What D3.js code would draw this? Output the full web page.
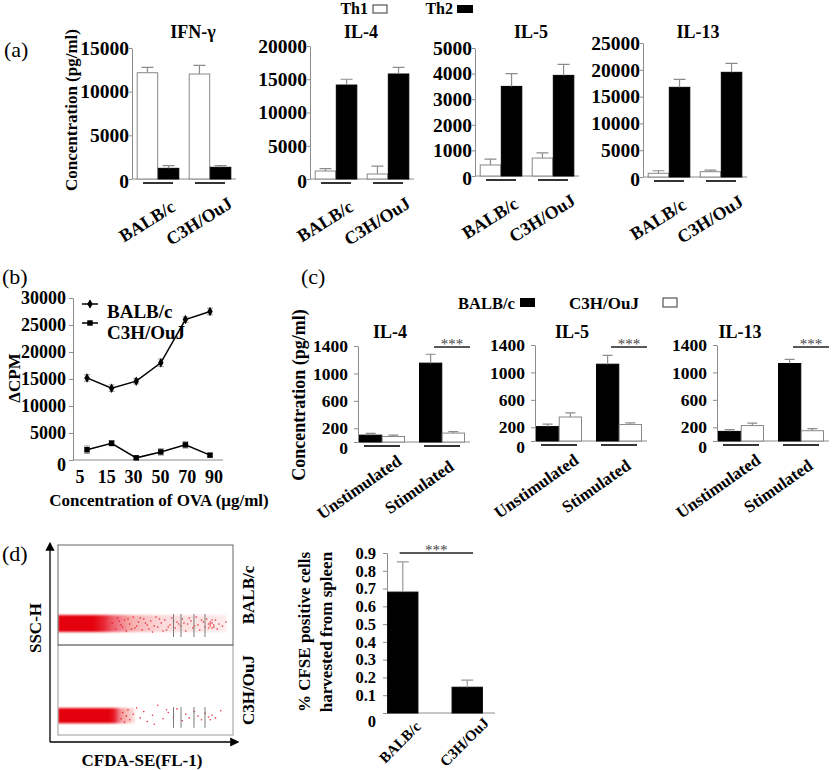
<!DOCTYPE html>
<html>
<head>
<meta charset="utf-8">
<script src="https://cdn.jsdelivr.net/npm/d3@7"></script>
<style>body { margin: 0; background: #fff; }</style>
</head>
<body>
<div id="chart"></div>
<script>
// ---- data: panel (a) ----
const strains = ['BALB/c', 'C3H/OuJ'];
const aPanels = ['IFN-γ', 'IL-4', 'IL-5', 'IL-13'];
const aTicks = [
  [0, 5000, 10000, 15000],
  [0, 5000, 10000, 15000, 20000],
  [0, 1000, 2000, 3000, 4000, 5000],
  [0, 5000, 10000, 15000, 20000, 25000],
];
const th1Values = [[12170, 12020], [1200, 750], [430, 700], [690, 990]];
const th1Err = [[620, 1000], [350, 1200], [230, 200], [480, 310]];
const th2Values = [[1220, 1340], [14130, 15790], [3500, 3930], [16730, 19530]];
const th2Err = [[310, 190], [870, 1000], [500, 430], [1500, 1670]];

// ---- data: panel (b) ----
const ovaDoses = ['5', '15', '30', '50', '70', '90'];
const cpmTicks = [0, 5000, 10000, 15000, 20000, 25000, 30000];
const balbCpm = [15200, 13300, 14600, 18000, 26000, 27500];
const balbCpmErr = [600, 600, 500, 700, 500, 600];
const c3hCpm = [1900, 3100, 400, 1500, 2800, 900];
const c3hCpmErr = [700, 500, 300, 600, 600, 300];

// ---- data: panel (c) ----
const cPanels = ['IL-4', 'IL-5', 'IL-13'];
const conditions = ['Unstimulated', 'Stimulated'];
const cTicks = [0, 200, 600, 1000, 1400];
const balbValues = [[100, 1150], [210, 1120], [140, 1130]];
const balbErr = [[25, 130], [35, 130], [25, 60]];
const c3hValues = [[80, 130], [350, 240], [225, 150]];
const c3hErr = [[20, 20], [60, 25], [35, 30]];

// ---- data: panel (d) ----
const cfseTicks = [0, 0.1, 0.2, 0.3, 0.4, 0.5, 0.6, 0.7, 0.8, 0.9];
const cfseValues = [0.68, 0.145];
const cfseErr = [0.17, 0.04];
// flow plots, FL-1 and SSC in 0-100 units: [from, to, relative density]
const flowTopDensity = [[0, 20, 1], [20, 26, 0.85], [26, 32, 0.6], [32, 42, 0.32], [42, 60, 0.14], [60, 96, 0.08]];
const flowBottomDensity = [[0, 29, 1], [29, 32, 0.9], [32, 36, 0.4], [36, 44, 0.1]];
const flowBand = [13, 30];
const flowTopDots = [
  [31, 22], [33, 16], [34, 27], [36, 20], [38, 25], [39, 14], [41, 21], [43, 28], [44, 17],
  [46, 23], [48, 15], [49, 26], [51, 20], [53, 24], [54, 13], [56, 28], [57, 18], [59, 22],
  [61, 25], [62, 15], [64, 20], [65, 27], [67, 17], [68, 23], [70, 19], [71, 26], [73, 14],
  [74, 21], [76, 24], [77, 17], [79, 28], [80, 20], [81, 15], [83, 23], [84, 18], [85, 26],
  [86, 21], [87, 19], [87, 23], [88, 17], [88, 22], [89, 20], [90, 25], [91, 16], [92, 21],
  [94, 19], [96, 23], [45, 19], [52, 16], [58, 26], [63, 18], [69, 21], [75, 27], [82, 25],
  [35, 24], [37, 18], [40, 26], [42, 16], [47, 27], [50, 22], [55, 19], [60, 14], [66, 24],
  [72, 22], [78, 19], [86, 17], [88, 25], [89, 18], [87, 21],
];
const flowBottomDots = [
  [36, 18], [37, 25], [38, 14], [39, 21], [40, 28], [41, 17], [43, 23], [45, 30], [47, 19],
  [49, 26], [51, 15], [54, 22], [57, 33], [60, 18], [63, 25], [66, 20], [68, 29], [71, 16],
  [73, 23], [75, 19], [78, 26], [80, 21], [82, 17], [84, 24], [86, 20], [87, 17], [88, 22],
  [90, 19], [93, 27], [55, 12], [62, 28],
];
const flowGates = [66, 70.3, 77.7, 84];

const SERIF = '"Liberation Serif", "Times New Roman", serif';
const AXIS = '#8c8c8c';
const RED = '#e4000f';

const svg = d3.select('#chart').append('svg')
  .attr('width', 840)
  .attr('height', 770);

svg.append('rect').attr('width', 840).attr('height', 770).attr('fill', '#fff');

const defs = svg.append('defs');
defs.append('filter').attr('id', 'soft')
  .append('feGaussianBlur').attr('stdDeviation', 0.9);
defs.append('marker')
  .attr('id', 'arrow')
  .attr('viewBox', '0 0 10 10')
  .attr('refX', 2).attr('refY', 5)
  .attr('markerWidth', 7).attr('markerHeight', 7)
  .attr('orient', 'auto')
  .append('path').attr('d', 'M0,0L10,5L0,10z').attr('fill', '#000');

function label(g, x, y, s, o = {}) {
  const t = g.append('text')
    .attr('x', x)
    .attr('y', y)
    .attr('font-family', SERIF)
    .attr('font-size', o.size || 17)
    .attr('font-weight', o.weight || 'bold')
    .attr('fill', o.fill || '#000')
    .attr('text-anchor', o.anchor || 'middle')
    .text(s);
  if (o.dy) t.attr('dy', o.dy);
  if (o.rotate) t.attr('transform', `rotate(${o.rotate},${x},${y})`);
  return t;
}

function leftAxis(g, y, x, ticks, fmt, o) {
  const a = g.append('g')
    .attr('transform', `translate(${x},0)`)
    .call(d3.axisLeft(y).tickValues(ticks).tickSizeInner(o.size || 4).tickSizeOuter(0)
      .tickPadding(o.pad).tickFormat(fmt));
  a.selectAll('path, line').attr('stroke', AXIS);
  a.selectAll('text')
    .attr('font-family', SERIF)
    .attr('font-size', o.font || 18)
    .attr('font-weight', 'bold')
    .attr('fill', '#000');
  // the zero label sits a little lower in the original
  a.selectAll('.tick').filter(d => d === 0).select('text')
    .attr('transform', `translate(0,${o.zero || 0})`);
  return a;
}

// grouped bars with error bars, used by (a), (c) and (d)
function groupedBars(g, c) {
  const y = d3.scaleLinear().domain([0, c.ticks[c.ticks.length - 1]]).range([c.y0, c.y1]);
  const gx = d3.scaleBand().domain(c.groups).range([c.x, c.x + c.len])
    .paddingInner(c.inner).paddingOuter(c.outer);
  const sx = d3.scaleBand().domain(c.series.map((s, i) => i)).range([0, gx.bandwidth()])
    .paddingInner(c.gap);

  leftAxis(g, y, c.x, c.ticks, c.fmt, c.axis);

  g.append('line')
    .attr('x1', c.x).attr('x2', c.x + c.axisLen)
    .attr('y1', c.y0).attr('y2', c.y0)
    .attr('stroke', AXIS);

  c.series.forEach((s, si) => {
    const bars = g.append('g');
    bars.selectAll('rect').data(c.groups).join('rect')
      .attr('x', d => gx(d) + sx(si))
      .attr('y', (d, i) => y(s.values[i]))
      .attr('width', sx.bandwidth())
      .attr('height', (d, i) => c.y0 - y(s.values[i]))
      .attr('fill', s.fill)
      .attr('stroke', s.stroke)
      .attr('stroke-width', 1);

    bars.selectAll('path').data(c.groups).join('path')
      .attr('d', (d, i) => {
        const cx = gx(d) + sx(si) + sx.bandwidth() / 2;
        const top = y(s.values[i] + s.errs[i]);
        return `M${cx},${y(s.values[i])}V${top}M${cx - c.cap / 2},${top}H${cx + c.cap / 2}`;
      })
      .attr('fill', 'none')
      .attr('stroke', c.errColor || '#8c8c8c')
      .attr('stroke-width', 1.2);
  });

  if (c.underline) {
    g.append('g').selectAll('line').data(c.groups).join('line')
      .attr('x1', d => gx(d) + gx.bandwidth() / 2 - c.underline)
      .attr('x2', d => gx(d) + gx.bandwidth() / 2 + c.underline)
      .attr('y1', c.y0 + 4).attr('y2', c.y0 + 4)
      .attr('stroke', '#333')
      .attr('stroke-width', 2);
  }

  c.groups.forEach(d => {
    label(g, gx(d) + gx.bandwidth() / 2 + c.ldx, c.y0 + c.ldy, d,
      { rotate: c.rot, size: c.lsize, dy: '0.35em' });
  });

  return { y, gx };
}

function sigBar(g, x1, x2, y) {
  g.append('line')
    .attr('x1', x1).attr('x2', x2)
    .attr('y1', y).attr('y2', y)
    .attr('stroke', '#222').attr('stroke-width', 1.5);
  label(g, (x1 + x2) / 2, y + 2, '***', { size: 15, weight: 'normal', fill: '#444' });
}

const intFmt = d3.format('d');

// ================= (a) =================
label(svg, 4, 57, '(a)', { size: 22, weight: 'normal', anchor: 'start' });
label(svg, 77, 110, 'Concentration (pg/ml)', { rotate: -90 });

label(svg, 368, 14, 'Th1', { size: 16, anchor: 'end' });
svg.append('rect').attr('x', 373).attr('y', 5).attr('width', 14).attr('height', 8)
  .attr('fill', '#fff').attr('stroke', '#333');
label(svg, 453, 14, 'Th2', { size: 16, anchor: 'end' });
svg.append('rect').attr('x', 457).attr('y', 5).attr('width', 16).attr('height', 8)
  .attr('fill', '#000');

const aLayout = [
  { x: 132, y0: 179, y1: 48, tx: 193 },
  { x: 310, y0: 179, y1: 46, tx: 361 },
  { x: 475, y0: 176, y1: 48, tx: 531 },
  { x: 643, y0: 177, y1: 43, tx: 698 },
];

aPanels.forEach((name, i) => {
  const L = aLayout[i];
  label(svg, L.tx, 38, name, { size: 18 });
  groupedBars(svg, {
    x: L.x, y0: L.y0, y1: L.y1, len: 104, axisLen: 104,
    ticks: aTicks[i], fmt: intFmt, axis: { pad: 0, size: 3, font: 19.5, zero: 2 },
    groups: strains, inner: 0.2, outer: 0.1, gap: 0.03, cap: 12,
    series: [
      { values: th1Values[i], errs: th1Err[i], fill: '#fff', stroke: '#888' },
      { values: th2Values[i], errs: th2Err[i], fill: '#000', stroke: '#000' },
    ],
    underline: 15, rot: -32, ldx: -11, ldy: 42, lsize: 18,
  });
});

// ================= (b) =================
label(svg, 2, 284, '(b)', { size: 22, weight: 'normal', anchor: 'start' });

const by = d3.scaleLinear().domain([0, 30000]).range([460, 298]);
const bx = d3.scalePoint().domain(ovaDoses).range([87, 210]);
const bxLabel = d3.scalePoint().domain(ovaDoses).range([80, 214]);

leftAxis(svg, by, 73, cpmTicks, intFmt, { pad: 3, zero: 5 });
svg.append('line').attr('x1', 73).attr('x2', 223).attr('y1', 460).attr('y2', 460).attr('stroke', AXIS);
ovaDoses.forEach(d => label(svg, bxLabel(d), 483, d, { size: 18 }));
label(svg, 159, 506, 'Concentration of OVA (μg/ml)', { size: 17 });
label(svg, 20, 378, 'ΔCPM', { size: 17, rotate: -90 });

// legend
svg.append('line').attr('x1', 82).attr('x2', 98).attr('y1', 304).attr('y2', 304).attr('stroke', '#000').attr('stroke-width', 1.5);
svg.append('path').attr('d', d3.symbol(d3.symbolDiamond, 26)()).attr('transform', 'translate(90,304)');
label(svg, 107, 318, 'BALB/c', { size: 19, anchor: 'start' });
svg.append('line').attr('x1', 82).attr('x2', 98).attr('y1', 323).attr('y2', 323).attr('stroke', '#000').attr('stroke-width', 1.5);
svg.append('path').attr('d', d3.symbol(d3.symbolSquare, 30)()).attr('transform', 'translate(90,323)');
label(svg, 107, 339, 'C3H/OuJ', { size: 19, anchor: 'start' });

const cpmSeries = [
  { values: balbCpm, errs: balbCpmErr, symbol: d3.symbolDiamond, size: 26 },
  { values: c3hCpm, errs: c3hCpmErr, symbol: d3.symbolSquare, size: 30 },
];
const cpmLine = d3.line().x((d, i) => bx(ovaDoses[i])).y(d => by(d));

cpmSeries.forEach(s => {
  svg.append('g').selectAll('path').data(s.values).join('path')
    .attr('d', (d, i) => {
      const cx = bx(ovaDoses[i]);
      const lo = by(d - s.errs[i]);
      const hi = by(d + s.errs[i]);
      return `M${cx},${lo}V${hi}M${cx - 3},${lo}H${cx + 3}M${cx - 3},${hi}H${cx + 3}`;
    })
    .attr('fill', 'none').attr('stroke', '#999').attr('stroke-width', 1);

  svg.append('path').datum(s.values)
    .attr('d', cpmLine)
    .attr('fill', 'none')
    .attr('stroke', '#000')
    .attr('stroke-width', 1.5);

  svg.append('g').selectAll('path').data(s.values).join('path')
    .attr('d', d3.symbol(s.symbol, s.size))
    .attr('transform', (d, i) => `translate(${bx(ovaDoses[i])},${by(d)})`)
    .attr('fill', '#000');
});

// ================= (c) =================
label(svg, 301, 284, '(c)', { size: 22, weight: 'normal', anchor: 'start' });
label(svg, 305, 395, 'Concentration (pg/ml)', { size: 18, rotate: -90 });

label(svg, 458, 309, 'BALB/c', { size: 16.5, anchor: 'start' });
svg.append('rect').attr('x', 520).attr('y', 298).attr('width', 15).attr('height', 9).attr('fill', '#000');
label(svg, 569, 309, 'C3H/OuJ', { size: 17, anchor: 'start' });
svg.append('rect').attr('x', 663).attr('y', 298).attr('width', 14).attr('height', 9)
  .attr('fill', '#fff').attr('stroke', '#333');

const cLayout = [
  { x: 358, y0: 442, y1: 346, tx: 390 },
  { x: 535, y0: 441, y1: 345, tx: 572 },
  { x: 717, y0: 441, y1: 345, tx: 740 },
];

cPanels.forEach((name, i) => {
  const L = cLayout[i];
  label(svg, L.tx, 338, name, { size: 18 });
  const { gx } = groupedBars(svg, {
    x: L.x, y0: L.y0, y1: L.y1, len: 108, axisLen: 112,
    ticks: cTicks, fmt: intFmt, axis: { pad: 6, zero: 6, font: 17.5 },
    groups: conditions, inner: 0.25, outer: 0.025, gap: 0.02, cap: 10,
    series: [
      { values: balbValues[i], errs: balbErr[i], fill: '#000', stroke: '#000' },
      { values: c3hValues[i], errs: c3hErr[i], fill: '#fff', stroke: '#888' },
    ],
    underline: 18, rot: -35, ldx: -23, ldy: 45, lsize: 17,
  });
  const stim = gx('Stimulated') + gx.bandwidth() / 2;
  sigBar(svg, stim - 8, L.x + 112, 347);
});

// ================= (d) =================
label(svg, 2, 561, '(d)', { size: 22, weight: 'normal', anchor: 'start' });

const fx = d3.scaleLinear().domain([0, 100]).range([58, 233]);
const flowPanels = [
  { density: flowTopDensity, dots: flowTopDots, y: d3.scaleLinear().domain([0, 100]).range([645, 545]), border: '#666', name: 'BALB/c' },
  { density: flowBottomDensity, dots: flowBottomDots, y: d3.scaleLinear().domain([0, 100]).range([735, 645]), border: '#9a9a9a', name: 'C3H/OuJ' },
];

flowPanels.slice().reverse().forEach((p, k) => {
  const id = `clip${k}`;
  defs.append('clipPath').attr('id', id)
    .append('rect')
    .attr('x', fx(0)).attr('y', p.y(100))
    .attr('width', fx(100) - fx(0)).attr('height', p.y(0) - p.y(100));

  // density along FL-1 as a horizontal gradient
  const end = p.density[p.density.length - 1][1];
  const grad = defs.append('linearGradient').attr('id', `grad${k}`);
  grad.append('stop').attr('offset', 0).attr('stop-color', RED).attr('stop-opacity', p.density[0][2]);
  p.density.forEach(d => {
    grad.append('stop')
      .attr('offset', d[1] / end)
      .attr('stop-color', RED)
      .attr('stop-opacity', d[2]);
  });
  grad.append('stop').attr('offset', 1).attr('stop-color', RED).attr('stop-opacity', 0);

  const g = svg.append('g');
  const inner = g.append('g').attr('clip-path', `url(#${id})`);

  inner.append('rect')
    .attr('x', fx(0))
    .attr('width', fx(end) - fx(0))
    .attr('y', p.y(flowBand[1]))
    .attr('height', p.y(flowBand[0]) - p.y(flowBand[1]))
    .attr('fill', `url(#grad${k})`)
    .attr('filter', 'url(#soft)');

  inner.append('g').selectAll('circle').data(p.dots).join('circle')
    .attr('cx', d => fx(d[0]))
    .attr('cy', d => p.y(d[1]))
    .attr('r', 0.8)
    .attr('fill', RED)
    .attr('opacity', 0.8);

  inner.append('g').selectAll('line').data(flowGates).join('line')
    .attr('x1', d => fx(d)).attr('x2', d => fx(d))
    .attr('y1', p.y(8)).attr('y2', p.y(31))
    .attr('stroke', '#7a7a7a').attr('stroke-width', 1);

  g.append('rect')
    .attr('x', fx(0)).attr('y', p.y(100))
    .attr('width', fx(100) - fx(0)).attr('height', p.y(0) - p.y(100))
    .attr('fill', 'none').attr('stroke', p.border).attr('stroke-width', 1);

  label(svg, 254, (p.y(0) + p.y(100)) / 2, p.name, { rotate: -90 });
});

svg.append('line').attr('x1', 50).attr('x2', 50).attr('y1', 742).attr('y2', 549)
  .attr('stroke', '#000').attr('stroke-width', 1.3).attr('marker-end', 'url(#arrow)');
svg.append('line').attr('x1', 50).attr('x2', 232).attr('y1', 742).attr('y2', 742)
  .attr('stroke', '#000').attr('stroke-width', 1.3).attr('marker-end', 'url(#arrow)');
label(svg, 41, 628, 'SSC-H', { rotate: -90 });
label(svg, 142, 766, 'CFDA-SE(FL-1)');

// bar chart of CFSE positive cells
label(svg, 310, 632, '% CFSE positive cells', { rotate: -90 });
label(svg, 332, 632, 'harvested from spleen', { rotate: -90 });

const cfse = groupedBars(svg, {
  x: 387, y0: 713, y1: 553, len: 96, axisLen: 108,
  ticks: cfseTicks, fmt: d => (d === 0 ? '0' : d3.format('.1f')(d)), axis: { pad: 7, zero: 8, font: 16.5 },
  groups: strains, inner: 0.53, outer: 0.01, gap: 0, cap: 12, errColor: '#9a9a9a',
  series: [{ values: cfseValues, errs: cfseErr, fill: '#000', stroke: '#000' }],
  underline: 0, rot: -45, ldx: -3, ldy: 29, lsize: 15,
});
sigBar(svg, cfse.gx('BALB/c') + 12, cfse.gx('C3H/OuJ') + 21, 553);
</script>
</body>
</html>
